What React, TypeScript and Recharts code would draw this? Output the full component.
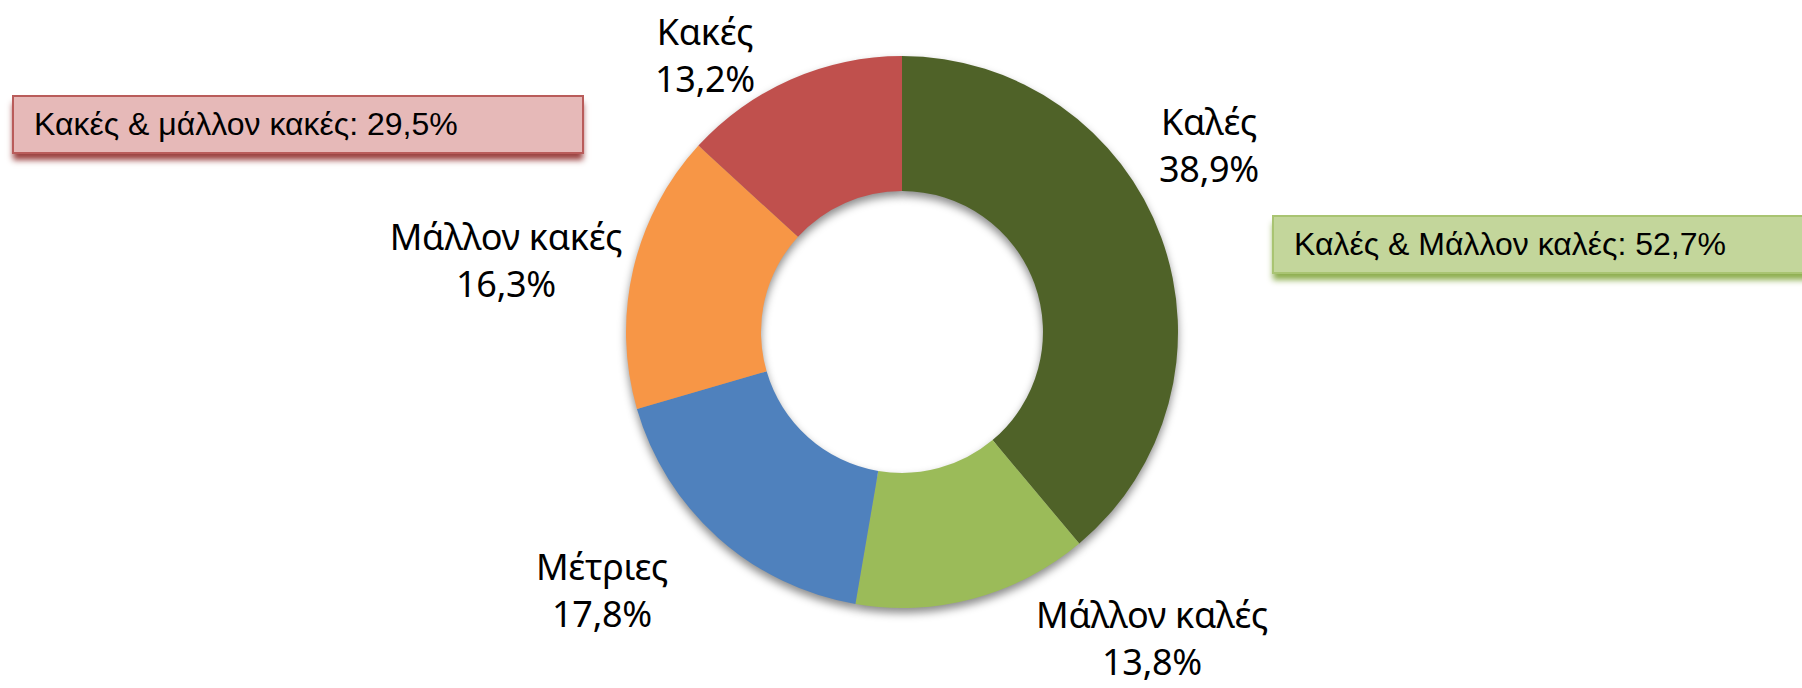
import React from 'react'
import { PieChart, Pie, Cell } from 'recharts'

const categories = ['Καλές', 'Μάλλον καλές', 'Μέτριες', 'Μάλλον κακές', 'Κακές']
const shares = [38.9, 13.8, 17.8, 16.3, 13.2]
const colors = ['#4F6228', '#9BBB59', '#4F81BD', '#F79646', '#C0504D']

// label anchors (first line baseline), offset from the donut centre
const labelOffsets = [
  [307, -197],
  [250, 296],
  [-300, 248],
  [-396, -82],
  [-197, -287],
]

const badSummary = 'Κακές & μάλλον κακές: 29,5%'
const goodSummary = 'Καλές & Μάλλον καλές: 52,7%'

const data = categories.map((name, i) => ({ name, value: shares[i] }))

const fmt = (v: number) => v.toFixed(1).replace('.', ',') + '%'

const CX = 902
const CY = 332

function renderLabel(props: any) {
  const { index } = props
  const cx = props.cx ?? CX
  const cy = props.cy ?? CY
  const [dx, dy] = labelOffsets[index]
  const x = cx + dx
  const y = cy + dy
  return (
    <text
      x={x}
      y={y}
      textAnchor="middle"
      fill="#000"
      style={{ fontFamily: '"Noto Sans", sans-serif', fontSize: 36, letterSpacing: -0.3 }}
    >
      <tspan x={x} y={y}>{categories[index]}</tspan>
      <tspan x={x} y={y + 47}>{fmt(shares[index])}</tspan>
    </text>
  )
}

const boxText: React.CSSProperties = {
  position: 'absolute',
  height: 59,
  lineHeight: '55px',
  boxSizing: 'border-box',
  paddingLeft: 20,
  fontFamily: '"Liberation Sans", Arial, sans-serif',
  fontSize: 32,
  color: '#000',
  whiteSpace: 'nowrap',
}

export default function App() {
  return (
    <div style={{ position: 'relative', width: 1802, height: 688, overflow: 'hidden', background: '#fff' }}>
      <style>{'body{margin:0}'}</style>
      <svg width={0} height={0} style={{ position: 'absolute' }}>
        <defs>
          <filter id="donutShadow" x="-20%" y="-20%" width="140%" height="140%">
            <feGaussianBlur stdDeviation="4" />
          </filter>
        </defs>
      </svg>
      <PieChart width={1802} height={688} margin={{ top: 0, right: 0, bottom: 0, left: 0 }}>
        <Pie
          data={data}
          dataKey="value"
          cx={CX}
          cy={CY + 5}
          innerRadius={141}
          outerRadius={276}
          startAngle={90}
          endAngle={-270}
          stroke="none"
          isAnimationActive={false}
        >
          {data.map((d) => (
            <Cell key={'s' + d.name} fill="#000" fillOpacity={0.45} filter="url(#donutShadow)" />
          ))}
        </Pie>
        <Pie
          data={data}
          dataKey="value"
          cx={CX}
          cy={CY}
          innerRadius={141}
          outerRadius={276}
          startAngle={90}
          endAngle={-270}
          stroke="none"
          label={renderLabel}
          labelLine={false}
          isAnimationActive={false}
        >
          {data.map((d, i) => (
            <Cell key={d.name} fill={colors[i]} />
          ))}
        </Pie>
      </PieChart>
      <div
        style={{
          ...boxText,
          left: 12,
          top: 95,
          width: 572,
          background: '#E6B9B8',
          border: '2px solid #B95C5A',
          boxShadow: '0 7px 6px -1px rgba(149,55,53,0.95)',
        }}
      >
        {badSummary}
      </div>
      <div
        style={{
          ...boxText,
          left: 1272,
          top: 215,
          width: 560,
          background: '#C3D69B',
          border: '2px solid #A9C472',
          boxShadow: '0 7px 6px -1px rgba(136,170,70,0.95)',
        }}
      >
        {goodSummary}
      </div>
    </div>
  )
}
